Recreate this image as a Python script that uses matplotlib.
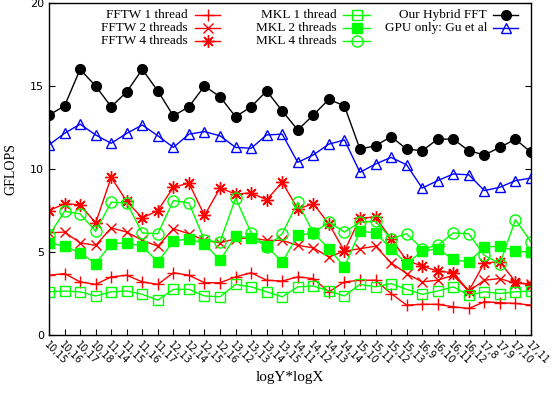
import numpy as np
import matplotlib
matplotlib.use('Agg')
import matplotlib.pyplot as plt
from matplotlib.lines import Line2D

# x tick labels (logY,logX)
labels = ['10,15', '10,16', '10,17', '10,18', '11,14', '11,15', '11,16', '11,17',
          '12,13', '12,14', '12,15', '12,16', '13,12', '13,13', '13,14', '13,15',
          '14,11', '14,12', '14,13', '14,14', '15,10', '15,11', '15,12', '15,13',
          '16,9', '16,10', '16,11', '16,12', '17,8', '17,9', '17,10', '17,11']

fftw1 = [3.6, 3.7, 3.2, 3.05, 3.5, 3.6, 3.2, 3.05, 3.75, 3.6, 3.15, 3.15,
         3.5, 3.75, 3.3, 3.25, 3.5, 3.4, 2.6, 3.2, 3.3, 3.3, 2.5, 1.8,
         1.85, 1.85, 1.7, 1.6, 2.0, 1.95, 1.9, 1.8]
fftw2 = [6.15, 6.2, 5.55, 5.4, 6.45, 6.2, 5.7, 5.35, 6.4, 6.1, 5.7, 5.55,
         5.8, 5.85, 5.7, 5.7, 5.4, 5.25, 4.7, 5.05, 5.2, 5.35, 4.35, 3.7,
         3.2, 3.3, 3.6, 2.65, 3.3, 3.4, 3.1, 3.1]
fftw4 = [7.5, 7.9, 7.85, 6.75, 9.5, 8.05, 7.05, 7.5, 8.9, 9.15, 7.2, 8.85,
         8.5, 8.55, 8.15, 9.2, 7.6, 7.9, 6.7, 5.05, 7.05, 7.1, 5.8, 4.5,
         4.15, 3.85, 3.75, 2.65, 4.35, 4.4, 3.2, 3.0]
mkl1 = [2.6, 2.65, 2.6, 2.35, 2.6, 2.65, 2.45, 2.1, 2.75, 2.75, 2.35, 2.3,
        3.05, 2.9, 2.6, 2.3, 2.9, 2.95, 2.65, 2.35, 3.05, 2.9, 3.1, 2.75,
        2.45, 2.65, 2.9, 2.4, 2.6, 2.5, 2.6, 2.65]
mkl2 = [5.55, 5.35, 4.95, 4.3, 5.5, 5.55, 5.35, 4.4, 5.65, 5.8, 5.5, 4.5,
        5.95, 5.85, 5.35, 4.4, 6.0, 6.15, 5.2, 4.1, 6.25, 6.15, 5.2, 4.3,
        5.05, 5.2, 4.55, 4.4, 5.3, 5.35, 5.05, 5.0]
mkl4 = [6.0, 7.45, 7.3, 6.25, 8.0, 7.95, 6.15, 6.1, 8.1, 7.95, 5.7, 5.6,
        8.25, 6.15, 5.3, 6.1, 8.0, 6.15, 6.8, 6.2, 6.8, 6.85, 5.8, 6.1,
        5.2, 5.4, 6.15, 6.1, 4.8, 4.3, 6.95, 5.6]
hybrid = [13.25, 13.8, 16.0, 15.0, 13.75, 14.65, 16.0, 14.7, 13.2, 13.75, 15.0, 14.35,
          13.15, 13.75, 14.7, 13.5, 12.35, 13.25, 14.2, 13.8, 11.2, 11.4, 11.95, 11.2,
          11.1, 11.8, 11.8, 11.1, 10.85, 11.3, 11.8, 11.0]
gpu = [11.45, 12.15, 12.7, 12.05, 11.55, 12.15, 12.65, 12.0, 11.3, 12.1, 12.25, 12.0,
       11.3, 11.25, 12.05, 12.1, 10.4, 10.85, 11.5, 11.75, 9.8, 10.3, 10.7, 10.25,
       8.85, 9.3, 9.7, 9.65, 8.7, 8.9, 9.3, 9.45]

RED, GREEN, BLUE = '#ff0000', '#00ff00', '#0000ff'
asterisk = (8, 2, 0)

series = [
    ('FFTW 1 thread', fftw1, dict(color=RED, marker='+', ms=8, mew=1)),
    ('FFTW 2 threads', fftw2, dict(color=RED, marker='x', ms=7, mew=1)),
    ('FFTW 4 threads', fftw4, dict(color=RED, marker=asterisk, ms=9, mew=1)),
    ('MKL 1 thread', mkl1, dict(color=GREEN, marker='s', ms=7, mew=1, mfc='none')),
    ('MKL 2 threads', mkl2, dict(color=GREEN, marker='s', ms=7, mew=1)),
    ('MKL 4 threads', mkl4, dict(color=GREEN, marker='o', ms=8, mew=1, mfc='none')),
    ('Our Hybrid FFT', hybrid, dict(color='black', marker='o', ms=7)),
    ('GPU only: Gu et al', gpu, dict(color=BLUE, marker='^', ms=7, mew=1, mfc='none')),
]

fig = plt.figure(figsize=(5.53, 3.93), dpi=100)
ax = fig.add_axes([49 / 553, 58 / 393, 482 / 553, 332 / 393])
x = np.arange(len(labels))

for name, vals, st in series:
    ax.plot(x, vals, lw=1, **st)

ax.set_xlim(0, len(labels) - 1)
ax.set_ylim(0, 20)
ax.set_yticks([0, 5, 10, 15, 20])
ax.set_xticks(x)
ax.set_xticklabels(labels, rotation=-45, ha='left', va='top', rotation_mode='anchor',
                   fontsize=7, family='DejaVu Sans')
ax.tick_params(axis='both', direction='in', right=True, length=4, width=0.8)
ax.tick_params(axis='y', labelsize=8)
ax.set_ylabel('GFLOPS', family='Liberation Serif', fontsize=10, labelpad=9)
ax.set_xlabel('logY*logX', family='Liberation Serif', fontsize=11, labelpad=3)
for sp in ax.spines.values():
    sp.set_linewidth(1)

# gnuplot style key: right aligned text, sample line after it
col_text_x = [188, 337, 487]
col_line = [(195, 220), (343, 370), (493, 518)]
row_y = [15, 28, 41]
for i, (name, vals, st) in enumerate(series):
    c, r = divmod(i, 3)
    tx = (col_text_x[c] - 49) / 482
    ty = (335 - row_y[r]) / 332
    ax.text(tx, ty, name, transform=ax.transAxes, ha='right', va='center',
            family='Liberation Serif', fontsize=9.5)
    x0, x1 = [(p - 49) / 482 for p in col_line[c]]
    ax.add_line(Line2D([x0, x1], [ty, ty], transform=ax.transAxes, lw=1,
                       color=st['color']))
    mst = {k: v for k, v in st.items() if k != 'color'}
    ax.add_line(Line2D([(x0 + x1) / 2], [ty], transform=ax.transAxes, ls='none',
                       color=st['color'], **mst))

fig.savefig('out.png', dpi=100)
